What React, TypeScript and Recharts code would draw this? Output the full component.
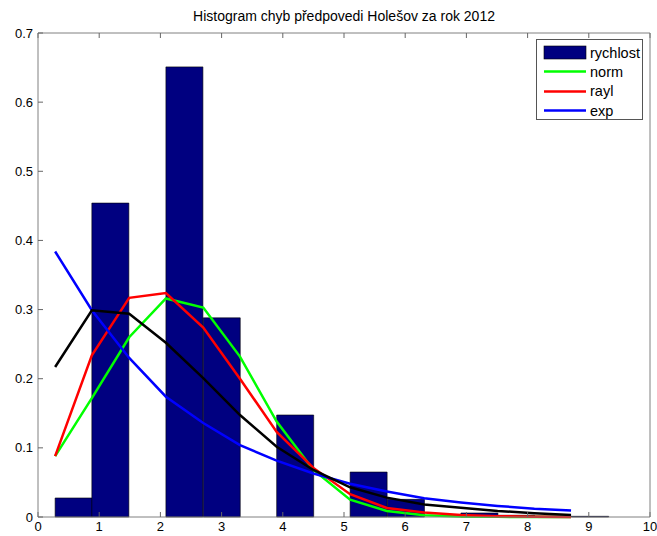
import { Bar, ComposedChart, Legend, Line, XAxis, YAxis } from 'recharts'

// histogram bins (centres) and relative frequency
const binCenters = [0.58, 1.18, 1.79, 2.39, 3.0, 3.6, 4.2, 4.8, 5.4, 6.01, 6.61, 7.21, 7.81, 8.41, 9.02]
const speedFreq = [0.0275, 0.454, 0, 0.651, 0.288, 0, 0.1475, 0, 0.065, 0.0255, 0, 0.0058, 0.0025, 0.0015, 0.001]

// fitted densities, evaluated at the bin edges
const fitX = [0.28, 0.88, 1.49, 2.09, 2.7, 3.3, 3.9, 4.5, 5.1, 5.7, 6.31, 6.91, 7.51, 8.11, 8.71]
const normPdf = [0.088, 0.172, 0.26, 0.316, 0.303, 0.232, 0.138, 0.068, 0.025, 0.0087, 0.0025, 0.0008, 0.0002, 0.0001, 0]
const raylPdf = [0.088, 0.234, 0.317, 0.324, 0.274, 0.2, 0.123, 0.071, 0.033, 0.013, 0.0065, 0.003, 0.0012, 0.0004, 0.0001]
const expPdf = [0.384, 0.299, 0.23, 0.174, 0.136, 0.104, 0.0815, 0.063, 0.048, 0.037, 0.027, 0.021, 0.016, 0.012, 0.0095]
const otherPdf = [0.217, 0.299, 0.294, 0.252, 0.201, 0.1475, 0.1017, 0.068, 0.043, 0.028, 0.018, 0.0135, 0.0087, 0.0055, 0.003]

const xTicks = [0, 1, 2, 3, 4, 5, 6, 7, 8, 9, 10]
const yTicks = [0, 0.1, 0.2, 0.3, 0.4, 0.5, 0.6, 0.7]

const title = 'Histogram chyb předpovedi Holešov za rok 2012'
const legendItems = [
  { name: 'rychlost', color: '#000080', kind: 'rect' },
  { name: 'norm', color: '#00ff00', kind: 'line' },
  { name: 'rayl', color: '#ff0000', kind: 'line' },
  { name: 'exp', color: '#0000ff', kind: 'line' },
]

const histRows = binCenters.map((x, i) => ({ x, rychlost: speedFreq[i] }))
const fitRows = fitX.map((x, i) => ({ x, norm: normPdf[i], rayl: raylPdf[i], exp: expPdf[i], other: otherPdf[i] }))

const font = '"Liberation Sans", Arial, sans-serif'
const axisColor = '#808080'
const noTick = () => <g />

function LegendBox() {
  return (
    <div
      style={{
        width: 107,
        height: 81,
        border: '1px solid #555',
        background: '#fff',
        boxSizing: 'border-box',
        paddingTop: 3,
        fontFamily: font,
        fontSize: 14.5,
      }}
    >
      {legendItems.map((item) => (
        <div key={item.name} style={{ display: 'flex', alignItems: 'center', height: 19.3 }}>
          <svg width={50} height={19} style={{ flex: 'none' }}>
            {item.kind === 'rect' ? (
              <rect x={7} y={3} width={42} height={13} fill={item.color} stroke="#000" strokeWidth={0.6} />
            ) : (
              <line x1={7} x2={49} y1={9.5} y2={9.5} stroke={item.color} strokeWidth={2.5} />
            )}
          </svg>
          <span style={{ marginLeft: 3, color: '#000' }}>{item.name}</span>
        </div>
      ))}
    </div>
  )
}

export default function App() {
  return (
    <div style={{ position: 'absolute', left: 0, top: 0, width: 657, height: 536, background: '#fff' }}>
      <div
        style={{
          position: 'absolute',
          top: 8,
          left: 38,
          width: 612,
          textAlign: 'center',
          fontFamily: font,
          fontSize: 14,
          color: '#000',
        }}
      >
        {title}
      </div>
      <ComposedChart
        width={657}
        height={536}
        data={histRows}
        margin={{ top: 32, right: 6, bottom: 0, left: 0 }}
        barCategoryGap={0}
        barGap={0}
      >
        <XAxis
          xAxisId="x"
          type="number"
          dataKey="x"
          domain={[0, 10]}
          ticks={xTicks}
          height={19}
          tickSize={-5}
          tickMargin={10}
          stroke={axisColor}
          tickLine={{ stroke: '#666' }}
          tick={{ fill: '#000', fontSize: 13, fontFamily: font }}
        />
        <XAxis xAxisId="bars" type="number" dataKey="x" domain={[0, 10]} height={0} hide />
        <XAxis
          xAxisId="top"
          orientation="top"
          type="number"
          dataKey="x"
          domain={[0, 10]}
          ticks={xTicks}
          height={1}
          tickSize={-5}
          stroke={axisColor}
          tickLine={{ stroke: '#666' }}
          tick={noTick}
        />
        <YAxis
          yAxisId="y"
          type="number"
          domain={[0, 0.7]}
          ticks={yTicks}
          width={38}
          tickSize={-5}
          tickMargin={10}
          stroke={axisColor}
          tickLine={{ stroke: '#666' }}
          tickFormatter={(v: number) => (v === 0 ? '0' : v.toFixed(1))}
          tick={{ fill: '#000', fontSize: 13, fontFamily: font }}
        />
        <YAxis
          yAxisId="r"
          orientation="right"
          type="number"
          domain={[0, 0.7]}
          ticks={yTicks}
          width={1}
          tickSize={-5}
          stroke={axisColor}
          tickLine={{ stroke: '#666' }}
          tick={noTick}
        />
        <Bar
          xAxisId="bars"
          yAxisId="y"
          dataKey="rychlost"
          fill="#000080"
          stroke="#000"
          strokeWidth={0.6}
          isAnimationActive={false}
        />
        <Line xAxisId="x" yAxisId="y" data={fitRows} dataKey="norm" stroke="#00ff00" strokeWidth={2.5} dot={false} isAnimationActive={false} />
        <Line xAxisId="x" yAxisId="y" data={fitRows} dataKey="rayl" stroke="#ff0000" strokeWidth={2.5} dot={false} isAnimationActive={false} />
        <Line xAxisId="x" yAxisId="y" data={fitRows} dataKey="exp" stroke="#0000ff" strokeWidth={2.5} dot={false} isAnimationActive={false} />
        <Line xAxisId="x" yAxisId="y" data={fitRows} dataKey="other" stroke="#000" strokeWidth={2.5} dot={false} legendType="none" isAnimationActive={false} />
        <Legend
          layout="horizontal"
          verticalAlign="middle"
          align="center"
          content={() => <LegendBox />}
          wrapperStyle={{ top: 39, left: 536, width: 107, height: 81 }}
        />
      </ComposedChart>
    </div>
  )
}
